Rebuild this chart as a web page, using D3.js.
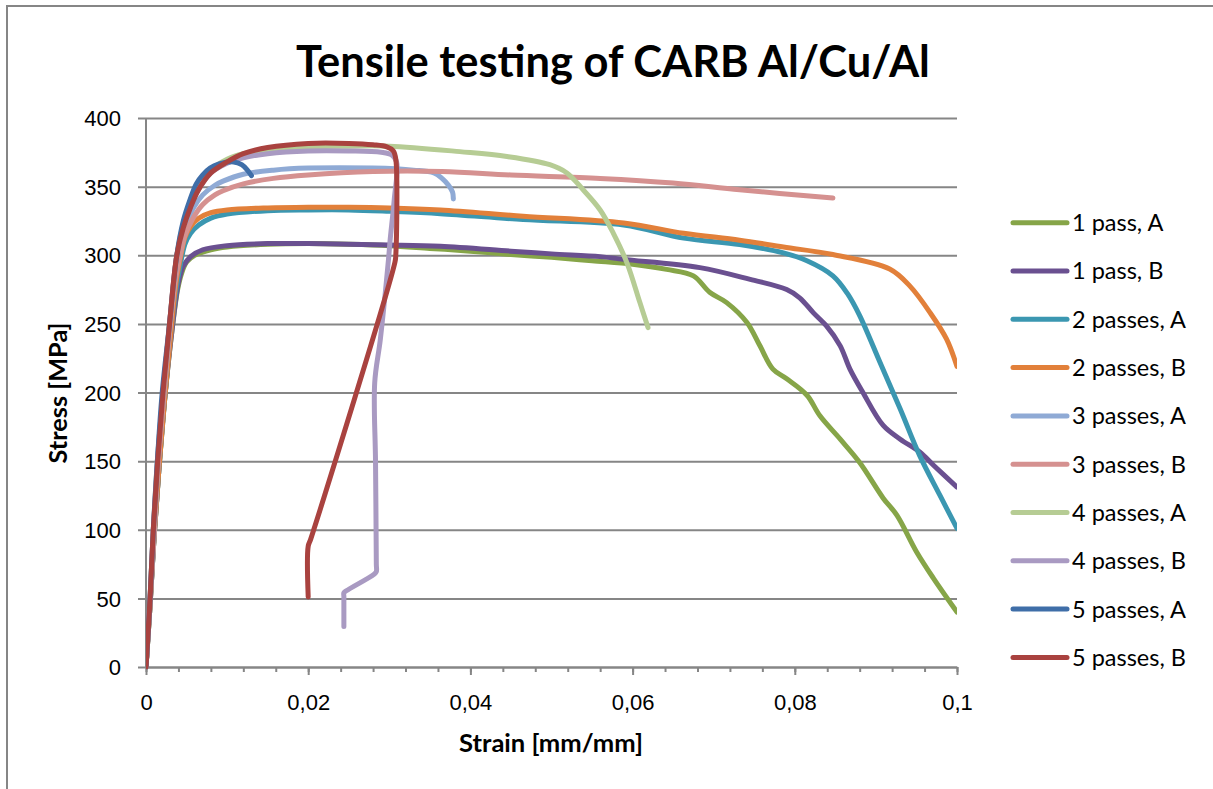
<!DOCTYPE html>
<html>
<head>
<meta charset="utf-8">
<script src="https://cdn.jsdelivr.net/npm/d3@7"></script>
<style>
  body { margin: 0; background: #fff; }
  svg { display: block; font-family: Lato, "Open Sans", sans-serif; }
</style>
</head>
<body>
<div class="chart-container"></div>
<script>
// series names (legend order)
const seriesNames = ['1 pass, A', '1 pass, B', '2 passes, A', '2 passes, B', '3 passes, A',
                     '3 passes, B', '4 passes, A', '4 passes, B', '5 passes, A', '5 passes, B'];
const xTickValues = [0, 0.02, 0.04, 0.06, 0.08, 0.1];
const xTickLabels = ['0', '0,02', '0,04', '0,06', '0,08', '0,1'];
const yTickValues = [0, 50, 100, 150, 200, 250, 300, 350, 400];

// [strain, stress]
const pass1A = [[0,0],[0.0005,45],[0.001,95],[0.0016,145],[0.0023,195],[0.0032,245],[0.0039,275],[0.0044,287],
  [0.005,295],[0.006,300],[0.008,304],[0.01,306],[0.015,308],[0.02,308.5],[0.025,308],[0.03,307],[0.035,305],
  [0.04,303],[0.045,300.5],[0.05,298.5],[0.055,296],[0.06,293.5],[0.0642,289.7],[0.0675,285],[0.0695,273],
  [0.0716,265.5],[0.0741,251],[0.0757,234],[0.0773,217],[0.079,210],[0.0815,198],[0.0831,183],[0.0856,166],
  [0.088,149],[0.0909,123],[0.0926,110.5],[0.095,84],[0.0971,64.6],[0.1,40]];
const pass1B = [[0,0],[0.0005,45],[0.001,95],[0.0016,145],[0.0023,195],[0.0032,245],[0.004,280],[0.0046,292],
  [0.0055,299],[0.007,304],[0.01,307],[0.015,308.5],[0.02,308.5],[0.025,308],[0.03,307.5],[0.0363,306.5],
  [0.045,303],[0.05,301],[0.056,299],[0.0589,297],[0.0683,291],[0.0745,282.4],[0.079,275],[0.0806,269],
  [0.0823,258],[0.0839,248.5],[0.0856,234],[0.0868,217],[0.0884,200],[0.0909,176],[0.093,166],[0.0954,156.6],
  [0.0971,147],[0.1,131]];
const pass2A = [[0,0],[0.0005,45],[0.001,95],[0.0016,145],[0.0023,195],[0.0031,245],[0.0037,275],[0.0042,292],
  [0.0048,308],[0.0055,316],[0.0065,322],[0.008,327],[0.01,330],[0.015,332.5],[0.02,333],[0.025,333],[0.03,332],
  [0.0363,330.3],[0.0465,326],[0.0589,322],[0.0663,312.5],[0.0732,307.8],[0.0786,301.7],[0.0815,296],
  [0.0847,285],[0.0865,272],[0.088,256],[0.0905,222],[0.093,188],[0.0954,154],[0.0979,125],[0.1,101]];
const pass2B = [[0,0],[0.0005,45],[0.001,95],[0.0016,145],[0.0023,195],[0.0031,245],[0.0037,280],[0.0042,297],
  [0.0048,313],[0.0055,321],[0.0065,327],[0.008,331],[0.01,333],[0.015,334.5],[0.02,335],[0.025,335],[0.03,334.5],
  [0.0363,333],[0.0465,328.5],[0.0589,323.5],[0.0663,316],[0.0732,311],[0.0786,306],[0.0847,300.5],[0.0917,290],
  [0.0942,277.5],[0.0967,258],[0.0987,239],[0.1,219]];
const pass3A = [[0,0],[0.0005,48],[0.001,98],[0.0015,148],[0.0022,198],[0.003,250],[0.0037,288],[0.0043,307],
  [0.0048,320],[0.0058,334],[0.007,344],[0.0085,351],[0.0095,354],[0.012,359],[0.0157,362],[0.02,363.5],
  [0.028,363.5],[0.033,362],[0.0355,360],[0.0365,356],[0.0373,351],[0.0378,346],[0.0379,341]];
const pass3B = [[0,0],[0.0005,48],[0.001,98],[0.0015,148],[0.0022,198],[0.003,250],[0.0037,284],[0.0043,302],
  [0.0048,314],[0.0058,327],[0.007,337],[0.0085,344],[0.0095,347],[0.012,352],[0.0157,356],[0.02,358.5],
  [0.028,361],[0.0365,361],[0.045,358.5],[0.056,356],[0.065,352.6],[0.0732,347.7],[0.0847,341.7]];
const pass4A = [[0,0],[0.0005,50],[0.0009,100],[0.0014,150],[0.0021,200],[0.0029,250],[0.0038,300],[0.0047,325],
  [0.0056,340],[0.0067,352],[0.008,362],[0.01,370],[0.012,374],[0.015,377],[0.02,379],[0.025,379.5],[0.03,379.5],
  [0.0387,375.5],[0.0445,372],[0.0498,366],[0.0519,360],[0.0539,347.7],[0.056,333],[0.0576,316.3],
  [0.0593,294.5],[0.0609,265.5],[0.0619,247.3]];
const pass4B = [[0,0],[0.0005,50],[0.0009,100],[0.0014,150],[0.0021,200],[0.0029,250],[0.0038,300],[0.0047,323],
  [0.0056,338],[0.0067,350],[0.008,360],[0.01,367],[0.012,371],[0.015,374],[0.02,376],[0.025,376],[0.029,375],
  [0.0303,373],[0.0309,368],[0.0306,340],[0.0301,311],[0.0299,297],[0.0289,239],[0.0282,207],[0.0283,150],
  [0.0284,75],[0.0284,69.5],[0.0281,67.5],[0.0247,55.5],[0.0244,54],[0.0244,51],[0.0244,29.5]];
const pass5A = [[0,0],[0.0005,50],[0.0009,100],[0.0014,150],[0.002,200],[0.0029,250],[0.0038,300],[0.0046,325],
  [0.0054,340],[0.0062,352],[0.007,358.5],[0.0079,363.5],[0.009,366.5],[0.0108,368],[0.0118,366],[0.0125,362],
  [0.013,358]];
const pass5B = [[0,0],[0.0005,50],[0.0009,100],[0.00144,150],[0.0021,200],[0.0029,250],[0.0038,300],[0.0046,320],
  [0.0055,335],[0.0065,348],[0.008,360],[0.01,368],[0.012,374],[0.015,378.5],[0.02,381.5],[0.025,381.5],
  [0.028,380.5],[0.0297,379],[0.0305,376],[0.0308,370],[0.0308,300],[0.0307,295],[0.0203,93],[0.02,88],[0.02,51]];

const seriesValues = [pass1A, pass1B, pass2A, pass2B, pass3A, pass3B, pass4A, pass4B, pass5A, pass5B];
const seriesColors = ['#86A548', '#6A5090', '#3B97B1', '#E2803A', '#8FAAD5',
                      '#D59190', '#B6CC94', '#A99AC2', '#3F6EA8', '#A9423F'];

// scale font size so the text spans the given width
function fitText(sel, width) {
    sel.style('font-size', '100px');
    const w = sel.node().getComputedTextLength();
    sel.style('font-size', (100 * width / w) + 'px');
}

function setupCanvas() {
    const svg_width = 1213;
    const svg_height = 789;
    const chart_margin = { top: 118, right: 256, bottom: 120, left: 146 };
    const chart_width = svg_width - (chart_margin.left + chart_margin.right);
    const chart_height = svg_height - (chart_margin.top + chart_margin.bottom) - 2;
    const gridColor = '#868686';

    const svg = d3.select('.chart-container').append('svg')
        .attr('width', svg_width).attr('height', svg_height);

    svg.append('rect').attr('width', svg_width).attr('height', svg_height).attr('fill', '#fff');
    // outer chart border
    svg.append('rect').attr('x', 7).attr('y', 6).attr('width', svg_width).attr('height', svg_height)
        .attr('fill', 'none').attr('stroke', gridColor).attr('stroke-width', 2);

    const this_svg = svg.append('g')
        .attr('transform', `translate(${chart_margin.left},${chart_margin.top})`);

    const xScale = d3.scaleLinear().domain([0, 0.1]).range([0, chart_width]);
    const yScale = d3.scaleLinear().domain([0, 400]).range([chart_height, 0]);

    // y axis with gridlines
    const yAxis = d3.axisLeft(yScale).tickValues(yTickValues).tickFormat(d3.format('d'))
        .tickSizeInner(-chart_width).tickSizeOuter(0).tickPadding(0);
    const yAxisDraw = this_svg.append('g').attr('class', 'y axis').call(yAxis);
    yAxisDraw.select('.domain').remove();
    yAxisDraw.selectAll('.tick line').attr('x1', -8).attr('stroke', gridColor).attr('stroke-width', 2);
    yAxisDraw.selectAll('.tick text').attr('x', -25).attr('fill', '#000')
        .style('font-size', '22px').attr('dy', '0.35em');
    this_svg.append('line').attr('x1', 0).attr('x2', 0).attr('y1', 0).attr('y2', chart_height)
        .attr('stroke', gridColor).attr('stroke-width', 2);

    // x axis: minor ticks every 0.004, longer major ticks
    const minorTicks = d3.range(0, 0.1001, 0.004);
    const xAxisMinor = d3.axisBottom(xScale).tickValues(minorTicks).tickFormat('')
        .tickSizeInner(5).tickSizeOuter(0);
    const xMinor = this_svg.append('g').attr('transform', `translate(0,${chart_height})`).call(xAxisMinor);
    xMinor.select('.domain').attr('stroke', gridColor).attr('stroke-width', 2);
    xMinor.selectAll('.tick line').attr('stroke', gridColor).attr('stroke-width', 2);

    const xAxis = d3.axisBottom(xScale).tickValues(xTickValues)
        .tickFormat((d, i) => xTickLabels[i]).tickSizeInner(8).tickSizeOuter(0).tickPadding(19);
    const xAxisDraw = this_svg.append('g').attr('class', 'x axis')
        .attr('transform', `translate(0,${chart_height})`).call(xAxis);
    xAxisDraw.select('.domain').remove();
    xAxisDraw.selectAll('.tick line').attr('stroke', gridColor).attr('stroke-width', 2);
    xAxisDraw.selectAll('.tick text').attr('fill', '#000').style('font-size', '22px');

    // series
    svg.append('clipPath').attr('id', 'plot-clip').append('rect')
        .attr('x', 0).attr('y', -40).attr('width', chart_width).attr('height', chart_height + 45);
    const line = d3.line().x(d => xScale(d[0])).y(d => yScale(d[1]))
        .curve(d3.curveCatmullRom.alpha(0.5));
    this_svg.append('g').attr('clip-path', 'url(#plot-clip)')
        .selectAll('.series')
        .data(seriesValues)
        .enter()
        .append('path')
        .attr('class', 'series')
        .attr('d', line)
        .attr('fill', 'none')
        .attr('stroke', (d, i) => seriesColors[i])
        .attr('stroke-width', 5)
        .attr('stroke-linejoin', 'round')
        .attr('stroke-linecap', 'round');

    // title
    const title = svg.append('text').attr('x', 613).attr('y', 77)
        .attr('text-anchor', 'middle').style('font-weight', 'bold')
        .text('Tensile testing of CARB Al/Cu/Al');
    fitText(title, 634);

    // axis titles
    const xTitle = svg.append('text').attr('x', 551).attr('y', 752)
        .attr('text-anchor', 'middle').style('font-weight', 'bold').text('Strain [mm/mm]');
    fitText(xTitle, 184);
    const yTitle = svg.append('text').attr('transform', 'translate(67,393) rotate(-90)')
        .attr('text-anchor', 'middle').style('font-weight', 'bold').text('Stress [MPa]');
    fitText(yTitle, 141);

    // legend
    const legend = svg.append('g').attr('class', 'legend');
    const items = legend.selectAll('.legend-item')
        .data(seriesNames)
        .enter()
        .append('g')
        .attr('class', 'legend-item')
        .attr('transform', (d, i) => `translate(1013,${222.7 + i * 48.3})`);
    items.append('line').attr('x1', 0).attr('x2', 54)
        .attr('stroke', (d, i) => seriesColors[i]).attr('stroke-width', 5).attr('stroke-linecap', 'round');
    items.append('text').attr('x', 59).attr('dy', '0.36em').style('font-size', '23.5px')
        .text(d => d);
}

setupCanvas();
</script>
</body>
</html>
